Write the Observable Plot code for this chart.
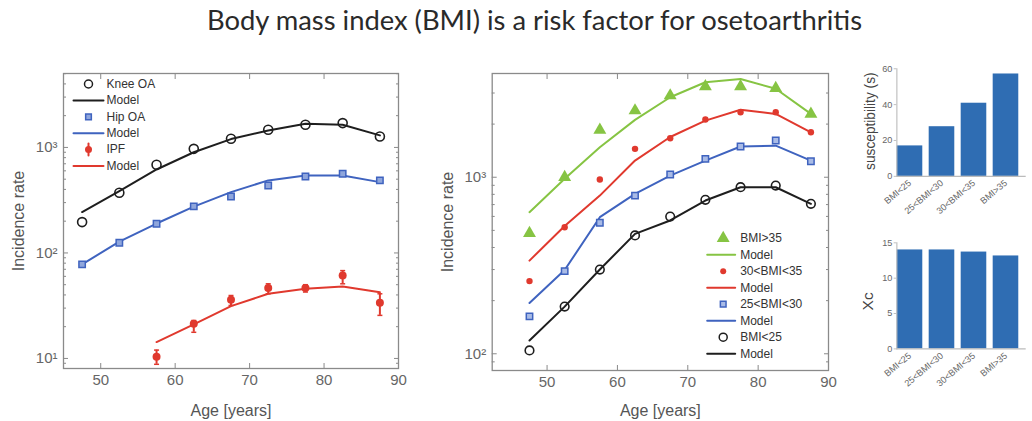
<!DOCTYPE html>
<html><head><meta charset="utf-8">
<script src="https://cdn.jsdelivr.net/npm/d3@7"></script>
<script src="https://cdn.jsdelivr.net/npm/@observablehq/plot@0.6"></script>
<style>
html,body{margin:0;padding:0;background:#fff;}
body{width:1032px;height:421px;overflow:hidden;position:relative;}
.panel{position:absolute;}
#title{position:absolute;left:207px;top:4px;white-space:nowrap;font-family:Lato,'Open Sans',sans-serif;font-size:26px;line-height:32px;color:#2a2a2a;transform-origin:0 0;}
</style></head><body>
<div id="title">Body mass index (BMI) is a risk factor for osetoarthritis</div>
<div class="panel" id="p1" style="left:0;top:50px"></div>
<div class="panel" id="p2" style="left:430px;top:50px"></div>
<div class="panel" id="p3" style="left:840px;top:50px"></div>
<div class="panel" id="p4" style="left:840px;top:225px"></div>
<script>
// ---------- data ----------
const ages = [47.5, 52.5, 57.5, 62.5, 67.5, 72.5, 77.5, 82.5, 87.5];
const ipfAges = [57.5, 62.5, 67.5, 72.5, 77.5, 82.5, 87.5];

// panel 1
const kneeOA    = [196, 372, 685, 970, 1210, 1470, 1640, 1700, 1270];
const kneeModel = [244, 385, 618, 900, 1200, 1450, 1680, 1640, 1300];
const hipOA     = [78, 125, 189, 276, 343, 436, 531, 563, 487];
const hipModel  = [78, 128, 190, 275, 377, 487, 543, 543, 469];
const ipf       = [10.4, 21.3, 36, 46.4, 46.4, 61, 33.7];
const ipfLow    = [8.8, 17.7, 31.8, 41, 42.6, 51, 25.6];
const ipfHigh   = [12, 22.9, 39.5, 51, 50, 68, 41];
const ipfModel  = [14.3, 21, 31.3, 41, 45.7, 48, 42.4];

// panel 2
const bmiOver35      = [482, 1000, 1850, 2385, 2900, 3265, 3265, 3190, 2285];
const bmiOver35Model = [634, 980, 1479, 2113, 2838, 3451, 3605, 3170, 2285];
const bmi30to35      = [258, 521, 971, 1448, 1663, 2122, 2334, 2334, 1798];
const bmi30to35Model = [337, 530, 787, 1243, 1690, 2094, 2410, 2285, 1798];
const bmi25to30      = [163, 294, 552, 787, 1036, 1271, 1493, 1614, 1233];
const bmi25to30Model = [194, 298, 594, 805, 1022, 1243, 1493, 1510, 1243];
const bmiUnder25      = [104.5, 185, 300, 468, 599, 745, 878, 897, 707];
const bmiUnder25Model = [119, 185, 300, 478, 569, 738, 878, 878, 707];

// bar panels
const bmiCats = ["BMI<25", "25<BMI<30", "30<BMI<35", "BMI>35"];
const susceptibility = [17, 27.7, 40.8, 57.1];
const xc = [14.0, 14.0, 13.7, 13.15];

// ticks & labels
const ageTicks = [50, 60, 70, 80, 90];
const decades1 = [10, 100, 1000];
const decades2 = [100, 1000];
const suscTicks = [0, 20, 40, 60];
const xcTicks = [0, 5, 10, 15];
const legend1Labels = ["Knee OA", "Model", "Hip OA", "Model", "IPF", "Model"];
const legend2Labels = ["BMI>35", "Model", "30<BMI<35", "Model", "25<BMI<30", "Model", "BMI<25", "Model"];

// ---------- styles ----------
const C = {black: "#1e1e1e", blue: "#3f63bf", red: "#e0392e", green: "#86c443", axis: "#8a8a8a", tick: "#666", text: "#333", bar: "#2f6db3"};
const FONT = "'Liberation Sans', Arial, Helvetica, sans-serif";
const sup = {0: "\u2070", 1: "\u00b9", 2: "\u00b2", 3: "\u00b3", 4: "\u2074"};
const fmtPow = d => "10" + sup[Math.round(Math.log10(d))];
const blank = () => "";
function minorTicks(domain) {
  const t = [];
  for (let p = 1; p < domain[1]; p *= 10)
    for (let k = 2; k <= 9; k++) { const v = p * k; if (v >= domain[0] && v <= domain[1]) t.push(v); }
  return t;
}
const lineShape = {draw(ctx, l) { ctx.moveTo(0, 0); ctx.lineTo(0, -l); }};
const capSymbol = {draw(ctx, size) { const w = Math.sqrt(size / Math.PI); ctx.moveTo(-w, 0); ctx.lineTo(w, 0); }};

function logAxes(yDomain, majors) {
  const minors = minorTicks(yDomain);
  return [
    Plot.frame({stroke: C.axis, strokeWidth: 1.3}),
    Plot.axisX(ageTicks, {anchor: "bottom", tickSize: -5, tickPadding: 11, fontSize: 15, label: null, stroke: C.axis, fill: C.tick}),
    Plot.axisX(ageTicks, {anchor: "top", tickSize: -5, tickFormat: blank, label: null, stroke: C.axis}),
    Plot.axisY(majors, {anchor: "left", tickSize: -5, tickPadding: 11, fontSize: 15, tickFormat: fmtPow, label: null, stroke: C.axis, fill: C.tick}),
    Plot.axisY(majors, {anchor: "right", tickSize: -5, tickFormat: blank, label: null, stroke: C.axis}),
    Plot.axisY(minors, {anchor: "left", tickSize: -3, tickFormat: blank, label: null, stroke: C.axis}),
    Plot.axisY(minors, {anchor: "right", tickSize: -3, tickFormat: blank, label: null, stroke: C.axis})
  ];
}

function legend(entries, labels, {mx, lx, len, tx, y0, step}) {
  const marks = [];
  entries.forEach((e, i) => {
    const dy = y0 + i * step;
    if (e.kind === "line") {
      marks.push(Plot.vector([0], {frameAnchor: "top-left", dx: lx, dy, length: len, rotate: 90, anchor: "start", shape: lineShape, stroke: e.color, strokeWidth: 2}));
    } else {
      if (e.err) marks.push(Plot.vector([0], {frameAnchor: "top-left", dx: mx, dy: dy - 6, length: 12, rotate: 180, anchor: "start", shape: lineShape, stroke: e.color, strokeWidth: 2}));
      marks.push(Plot.dot([0], {frameAnchor: "top-left", dx: mx, dy, symbol: e.symbol, r: e.r, fill: e.fill, stroke: e.stroke, strokeWidth: 1.5}));
    }
    marks.push(Plot.text([labels[i]], {frameAnchor: "top-left", dx: tx, dy, textAnchor: "start", lineAnchor: "middle", fontSize: 12, fill: C.text}));
  });
  return marks;
}

// ---------- panel 1 ----------
const y1Domain = [8.03, 5020];
const p1 = Plot.plot({
  width: 420, height: 371, marginLeft: 63, marginRight: 22, marginTop: 23, marginBottom: 53,
  x: {domain: [45, 90]}, y: {type: "log", domain: y1Domain},
  style: {fontFamily: FONT, color: C.tick, background: "transparent", overflow: "visible"},
  marks: [
    ...logAxes(y1Domain, decades1),
    Plot.lineY(kneeModel, {x: ages, stroke: C.black, strokeWidth: 2}),
    Plot.dot(kneeOA, {x: ages, y: d => d, r: 4.5, stroke: C.black, strokeWidth: 1.6, fill: "none"}),
    Plot.lineY(hipModel, {x: ages, stroke: C.blue, strokeWidth: 2}),
    Plot.dot(hipOA, {x: ages, y: d => d, symbol: "square", r: 3.6, stroke: C.blue, strokeWidth: 1.5, fill: "#8fa6dc"}),
    Plot.lineY(ipfModel, {x: ipfAges, stroke: C.red, strokeWidth: 2}),
    Plot.ruleX(ipf, {x: ipfAges, y1: ipfLow, y2: ipfHigh, stroke: C.red, strokeWidth: 2}),
    Plot.dot(ipfLow, {x: ipfAges, y: d => d, symbol: capSymbol, r: 2.5, stroke: C.red, strokeWidth: 1.5}),
    Plot.dot(ipfHigh, {x: ipfAges, y: d => d, symbol: capSymbol, r: 2.5, stroke: C.red, strokeWidth: 1.5}),
    Plot.dot(ipf, {x: ipfAges, y: d => d, r: 4, fill: C.red}),
    ...legend([
      {kind: "dot", r: 4, fill: "none", stroke: C.black},
      {kind: "line", color: C.black},
      {kind: "dot", symbol: "square", r: 3.2, fill: "#8fa6dc", stroke: C.blue},
      {kind: "line", color: C.blue},
      {kind: "dot", r: 3.5, fill: C.red, stroke: "none", err: true, color: C.red},
      {kind: "line", color: C.red}
    ], legend1Labels, {mx: 25, lx: 10, len: 30, tx: 43, y0: 10.5, step: 16.4}),
    Plot.text(["Incidence rate"], {frameAnchor: "left", dx: -45, rotate: -90, textAnchor: "middle", lineAnchor: "middle", fontSize: 16, fill: "#555"}),
    Plot.text(["Age [years]"], {frameAnchor: "bottom", dy: 42, textAnchor: "middle", lineAnchor: "middle", fontSize: 16, fill: "#555"})
  ]
});
document.getElementById("p1").append(p1);

// ---------- panel 2 ----------
const y2Domain = [80.4, 3870];
const p2 = Plot.plot({
  width: 420, height: 371, marginLeft: 61.7, marginRight: 22, marginTop: 23, marginBottom: 51,
  x: {domain: [42.2, 90]}, y: {type: "log", domain: y2Domain},
  style: {fontFamily: FONT, color: C.tick, background: "transparent", overflow: "visible"},
  marks: [
    ...logAxes(y2Domain, decades2),
    Plot.lineY(bmiOver35Model, {x: ages, stroke: C.green, strokeWidth: 2}),
    Plot.dot(bmiOver35, {x: ages, y: d => d, symbol: "triangle", r: 4.8, fill: C.green}),
    Plot.lineY(bmi30to35Model, {x: ages, stroke: C.red, strokeWidth: 2}),
    Plot.dot(bmi30to35, {x: ages, y: d => d, r: 3.2, fill: C.red}),
    Plot.lineY(bmi25to30Model, {x: ages, stroke: C.blue, strokeWidth: 2}),
    Plot.dot(bmi25to30, {x: ages, y: d => d, symbol: "square", r: 3.6, stroke: C.blue, strokeWidth: 1.5, fill: "#a9bbe6"}),
    Plot.lineY(bmiUnder25Model, {x: ages, stroke: C.black, strokeWidth: 2}),
    Plot.dot(bmiUnder25, {x: ages, y: d => d, r: 4.3, stroke: C.black, strokeWidth: 1.6, fill: "none"}),
    ...legend([
      {kind: "dot", symbol: "triangle", r: 4.8, fill: C.green, stroke: "none"},
      {kind: "line", color: C.green},
      {kind: "dot", r: 3, fill: C.red, stroke: "none"},
      {kind: "line", color: C.red},
      {kind: "dot", symbol: "square", r: 3.2, fill: "#a9bbe6", stroke: C.blue},
      {kind: "line", color: C.blue},
      {kind: "dot", r: 4, fill: "none", stroke: C.black},
      {kind: "line", color: C.black}
    ], legend2Labels, {mx: 231, lx: 215, len: 28, tx: 248, y0: 164.7, step: 16.5}),
    Plot.text(["Incidence rate"], {frameAnchor: "left", dx: -44, rotate: -90, textAnchor: "middle", lineAnchor: "middle", fontSize: 16, fill: "#555"}),
    Plot.text(["Age [years]"], {frameAnchor: "bottom", dy: 40, textAnchor: "middle", lineAnchor: "middle", fontSize: 16, fill: "#555"})
  ]
});
document.getElementById("p2").append(p2);

// ---------- bar panels ----------
function barPanel(values, ticks, yMax, label, opts) {
  return Plot.plot({
    width: 210, height: opts.height, marginLeft: 61.7, marginRight: 8, marginTop: opts.top, marginBottom: opts.bottom,
    x: {domain: bmiCats, paddingInner: 0.2, paddingOuter: 0.07, align: 0},
    y: {domain: [0, yMax]},
    style: {fontFamily: FONT, color: "#777", background: "transparent", overflow: "visible"},
    marks: [
      Plot.barY(values, {x: bmiCats, y: d => d, fill: C.bar}),
      Plot.frame({anchor: "left", stroke: "#bbb", strokeWidth: 1.2}),
      Plot.frame({anchor: "bottom", stroke: "#bbb", strokeWidth: 1.2}),
      Plot.axisY(ticks, {tickSize: 3, tickPadding: 2, fontSize: 10, label: null, stroke: "#bbb", fill: "#666"}),
      Plot.axisX({tickRotate: -40, tickSize: 0, tickPadding: 6, fontSize: 10, label: null, fill: "#666"}),
      Plot.text([label], {frameAnchor: "left", dx: opts.ldx, dy: opts.ldy, rotate: -90, textAnchor: "middle", lineAnchor: "middle", fontSize: opts.lsize, fill: "#444"})
    ]
  });
}
document.getElementById("p3").append(barPanel(susceptibility, suscTicks, 60, "susceptibility (s)", {height: 180, top: 20, bottom: 42.3, ldx: -29, ldy: -1.5, lsize: 15}));
document.getElementById("p4").append(barPanel(xc, xcTicks, 15, "Xc", {height: 196, top: 19, bottom: 61, ldx: -32, ldy: 6, lsize: 17}));

// ---------- title fit ----------
const title = document.getElementById("title");
const w = title.getBoundingClientRect().width;
title.style.transform = `scaleX(${655 / w})`;
</script>
</body></html>
